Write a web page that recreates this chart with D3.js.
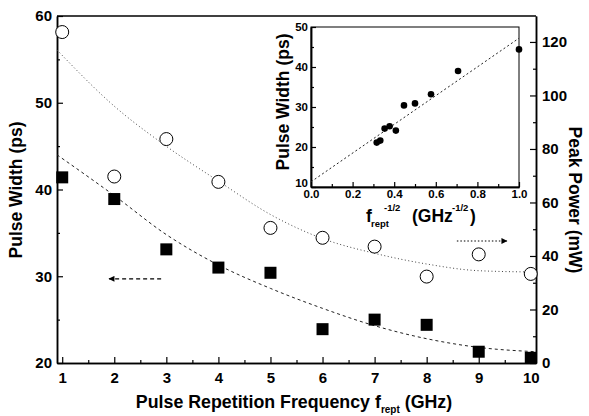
<!DOCTYPE html>
<html>
<head>
<meta charset="utf-8">
<script src="https://cdn.jsdelivr.net/npm/d3@7"></script>
<style>
  body { margin: 0; background: #fff; }
  text { font-family: "Liberation Sans", Arial, sans-serif; font-weight: bold; fill: #000; }
  .axis path, .axis line { stroke: #000; }
</style>
</head>
<body>
<script>
// main chart data
var freq = [1, 2, 3, 4, 5, 6, 7, 8, 9, 10];
var pulseWidth = [41.4, 38.9, 33.1, 31.0, 30.4, 23.9, 25.0, 24.4, 21.3, 20.6];
var peakPower = [123.7, 69.7, 83.7, 67.7, 50.5, 46.8, 43.5, 32.3, 40.6, 33.3];

// fit curves
var fitFreq = [0.9, 2, 3, 4, 5, 6, 7, 8, 9, 10.1];
var fitWidth = [44.0, 39.3, 34.8, 31.3, 28.6, 26.3, 24.3, 22.8, 21.8, 21.3];
var fitPower = [117, 96, 81, 68, 55.5, 46.5, 41, 37, 34.5, 34];

// inset data
var insetX = [1.0, 0.707, 0.577, 0.5, 0.447, 0.408, 0.378, 0.354, 0.333, 0.316];
var insetY = [44.4, 39.0, 33.2, 30.9, 30.4, 24.1, 25.2, 24.6, 21.6, 21.1];
var insetFitX = [0, 1.0];
var insetFitY = [11.3, 47.2];

var leftTicks = [20, 30, 40, 50, 60];
var rightTicks = [0, 20, 40, 60, 80, 100, 120];
var insetXTicks = [0, 0.2, 0.4, 0.6, 0.8, 1.0];
var insetYTicks = [10, 20, 30, 40, 50];

var W = 589, H = 416;
var svg = d3.select("body").append("svg").attr("width", W).attr("height", H);

var x = d3.scaleLinear().domain([0.9, 10.1]).range([57, 536]);
var yL = d3.scaleLinear().domain([20, 60]).range([363, 16]);
var yR = d3.scaleLinear().domain([0, 129.7]).range([363, 16]);

function styleAxis(g, size) {
  g.attr("class", "axis");
  g.select(".domain").attr("stroke-width", 1.5);
  g.selectAll(".tick line").attr("stroke-width", 1.2);
  g.selectAll("text").style("font-size", size + "px").attr("font-family", null);
}

// minor ticks first
svg.append("g").attr("transform", "translate(0,363)")
  .call(d3.axisBottom(x).tickValues(d3.range(1.5, 10, 1)).tickSize(-3).tickSizeOuter(0).tickFormat(""))
  .call(function (g) { styleAxis(g, 15); });
svg.append("g").attr("transform", "translate(57,0)")
  .call(d3.axisLeft(yL).tickValues([25, 35, 45, 55]).tickSize(-3).tickSizeOuter(0).tickFormat(""))
  .call(function (g) { styleAxis(g, 15); });
svg.append("g").attr("transform", "translate(536,0)")
  .call(d3.axisRight(yR).tickValues([10, 30, 50, 70, 90, 110]).tickSize(-3).tickSizeOuter(0).tickFormat(""))
  .call(function (g) { styleAxis(g, 15); });

// major ticks
svg.append("g").attr("transform", "translate(0,363)")
  .call(d3.axisBottom(x).tickValues(freq).tickSize(-6).tickSizeOuter(0).tickPadding(9))
  .call(function (g) { styleAxis(g, 15); });
svg.append("g").attr("transform", "translate(57,0)")
  .call(d3.axisLeft(yL).tickValues(leftTicks).tickSize(-6).tickSizeOuter(0).tickPadding(5))
  .call(function (g) { styleAxis(g, 15); });
svg.append("g").attr("transform", "translate(536,0)")
  .call(d3.axisRight(yR).tickValues(rightTicks).tickSize(-6).tickSizeOuter(0).tickPadding(6))
  .call(function (g) { styleAxis(g, 15); });

// top border
svg.append("line").attr("x1", 57).attr("x2", 536).attr("y1", 16).attr("y2", 16)
  .attr("stroke", "#000").attr("stroke-width", 1.5);

// fit curves
var lineW = d3.line().curve(d3.curveMonotoneX)
  .x(function (d, i) { return x(fitFreq[i]); })
  .y(function (d) { return yL(d); });
var lineP = d3.line().curve(d3.curveMonotoneX)
  .x(function (d, i) { return x(fitFreq[i]); })
  .y(function (d) { return yR(d); });

svg.append("path").datum(fitWidth).attr("d", lineW)
  .attr("fill", "none").attr("stroke", "#222").attr("stroke-width", 1).attr("stroke-dasharray", "3,3");
svg.append("path").datum(fitPower).attr("d", lineP)
  .attr("fill", "none").attr("stroke", "#444").attr("stroke-width", 1).attr("stroke-dasharray", "1,2.5");

// squares: pulse width
svg.selectAll(".sq").data(pulseWidth).enter().append("rect")
  .attr("class", "sq")
  .attr("x", function (d, i) { return x(freq[i]) - 6; })
  .attr("y", function (d) { return yL(d) - 6; })
  .attr("width", 12).attr("height", 12)
  .attr("fill", "#000");

// circles: peak power
svg.selectAll(".ci").data(peakPower).enter().append("circle")
  .attr("class", "ci")
  .attr("cx", function (d, i) { return x(freq[i]); })
  .attr("cy", function (d) { return yR(d); })
  .attr("r", 6.5)
  .attr("fill", "#fff").attr("stroke", "#000").attr("stroke-width", 1);

// arrows
var defs = svg.append("defs");
defs.append("marker").attr("id", "ah").attr("viewBox", "0 0 10 10")
  .attr("refX", 9).attr("refY", 5).attr("markerWidth", 9).attr("markerHeight", 6)
  .attr("markerUnits", "userSpaceOnUse").attr("orient", "auto")
  .append("path").attr("d", "M0,0L10,5L0,10Z").attr("fill", "#000");

svg.append("line")
  .attr("x1", x(2.9)).attr("x2", x(1.9)).attr("y1", yL(29.7)).attr("y2", yL(29.7))
  .attr("stroke", "#000").attr("stroke-width", 1.2).attr("stroke-dasharray", "4,3")
  .attr("marker-end", "url(#ah)");
svg.append("line")
  .attr("x1", x(8.58)).attr("x2", x(9.54)).attr("y1", yR(45.6)).attr("y2", yR(45.6))
  .attr("stroke", "#000").attr("stroke-width", 1.2).attr("stroke-dasharray", "1.5,2")
  .attr("marker-end", "url(#ah)");

// axis titles
svg.append("text")
  .attr("transform", "translate(22,190) rotate(-90)")
  .attr("text-anchor", "middle")
  .style("font-size", "17.5px")
  .text("Pulse Width (ps)");

svg.append("text")
  .attr("transform", "translate(569,200) rotate(90)")
  .attr("text-anchor", "middle")
  .style("font-size", "17.5px")
  .text("Peak Power (mW)");

var xt = svg.append("text").attr("x", 294).attr("y", 408)
  .attr("text-anchor", "middle").style("font-size", "17.8px");
xt.append("tspan").text("Pulse Repetition Frequency f");
xt.append("tspan").attr("dy", 5).style("font-size", "10px").text("rept");
xt.append("tspan").attr("dy", -5).text(" (GHz)");

// ---------- inset ----------
var xi = d3.scaleLinear().domain([0, 1.0]).range([311, 519]);
var yi = d3.scaleLinear().domain([10, 50]).range([187, 27]);

var inset = svg.append("g");
inset.append("rect").attr("x", 311).attr("y", 27).attr("width", 208).attr("height", 160)
  .attr("fill", "#fff").attr("stroke", "#000").attr("stroke-width", 1);

inset.append("g").attr("transform", "translate(0,187)")
  .call(d3.axisBottom(xi).tickValues(d3.range(0.1, 1, 0.2)).tickSize(-3).tickSizeOuter(0).tickFormat(""))
  .call(function (g) { styleAxis(g, 11.5); });
inset.append("g").attr("transform", "translate(311,0)")
  .call(d3.axisLeft(yi).tickValues([15, 25, 35, 45]).tickSize(-3).tickSizeOuter(0).tickFormat(""))
  .call(function (g) { styleAxis(g, 11.5); });
inset.append("g").attr("transform", "translate(0,187)")
  .call(d3.axisBottom(xi).tickValues(insetXTicks).tickSize(-5).tickSizeOuter(0).tickPadding(3).tickFormat(d3.format(".1f")))
  .call(function (g) { styleAxis(g, 11.5); });
inset.append("g").attr("transform", "translate(311,0)")
  .call(d3.axisLeft(yi).tickValues(insetYTicks).tickSize(-5).tickSizeOuter(0).tickPadding(3))
  .call(function (g) {
    styleAxis(g, 11.5);
    // lift the bottom label a little so it sits above "0.0"
    g.selectAll(".tick").filter(function (d) { return d === 10; }).select("text").attr("dy", "-0.05em");
  });

inset.append("path").datum(insetFitY)
  .attr("d", d3.line().x(function (d, i) { return xi(insetFitX[i]); }).y(function (d) { return yi(d); }))
  .attr("fill", "none").attr("stroke", "#222").attr("stroke-width", 1).attr("stroke-dasharray", "2,2.5");

inset.selectAll(".dot").data(insetY).enter().append("circle")
  .attr("class", "dot")
  .attr("cx", function (d, i) { return xi(insetX[i]); })
  .attr("cy", function (d) { return yi(d); })
  .attr("r", 3.3).attr("fill", "#000");

inset.append("text")
  .attr("transform", "translate(289,102) rotate(-90)")
  .attr("text-anchor", "middle")
  .style("font-size", "17.5px")
  .text("Pulse Width (ps)");

// inset x title: f_rept^-1/2 (GHz^-1/2)
inset.append("text").attr("x", 366).attr("y", 222).style("font-size", "17.5px").text("f");
inset.append("text").attr("x", 371).attr("y", 227).style("font-size", "9.5px").text("rept");
inset.append("text").attr("x", 384).attr("y", 211).style("font-size", "9.5px").text("-1/2");
inset.append("text").attr("x", 412).attr("y", 222).style("font-size", "17.5px").text("(GHz");
inset.append("text").attr("x", 452).attr("y", 211).style("font-size", "9.5px").text("-1/2");
inset.append("text").attr("x", 470).attr("y", 222).style("font-size", "17.5px").text(")");
</script>
</body>
</html>
